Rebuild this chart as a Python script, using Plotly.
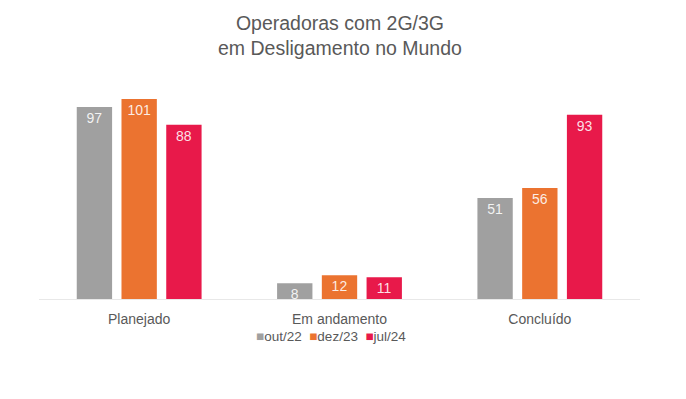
import plotly.graph_objects as go

categories = ["Planejado", "Em andamento", "Concluído"]
series_names = ["out/22", "dez/23", "jul/24"]
out22 = [97, 8, 51]
dez23 = [101, 12, 56]
jul24 = [88, 11, 93]
colors = ["#A0A0A0", "#EB7330", "#E8194A"]

FONT = "Liberation Sans, Arial"

fig = go.Figure()
for name, vals, col in zip(series_names, [out22, dez23, jul24], colors):
    fig.add_trace(go.Bar(
        x=categories, y=vals, name=name,
        marker=dict(color=col, line=dict(width=0)),
        text=[str(v) for v in vals], textposition="inside",
        insidetextanchor="end", textangle=0,
        textfont=dict(color="rgba(255,255,255,0.88)", size=14, family=FONT),
        cliponaxis=False, showlegend=False,
    ))

legend_text = "&nbsp;&nbsp;".join(
    f"<span style='color:{c}'>■</span>{n}" for n, c in zip(series_names, colors)
)

plot_top, plot_bottom = 72, 399 - 108


def fig_y_to_paper(py):
    return (plot_bottom - py) / (plot_bottom - plot_top)


fig.update_layout(
    width=686, height=399,
    paper_bgcolor="white", plot_bgcolor="white",
    margin=dict(l=31, r=54, t=72, b=108),
    barmode="group", bargap=0.33, bargroupgap=0.21,
    font=dict(family=FONT, color="#595959"),
    showlegend=False,
    uniformtext=dict(minsize=14, mode="show"),
    annotations=[
        dict(text="Operadoras com 2G/3G<br>em Desligamento no Mundo",
             x=0.5, xref="paper", xanchor="center",
             y=fig_y_to_paper(2), yref="paper", yanchor="top",
             showarrow=False,
             font=dict(size=19.5, color="#595959", family=FONT)),
        dict(text=legend_text, x=0.5, xref="paper", xanchor="center", xshift=-9,
             y=fig_y_to_paper(328), yref="paper", yanchor="middle",
             showarrow=False, font=dict(size=13.5, color="#595959", family=FONT)),
    ],
)
fig.update_xaxes(showline=True, linecolor="#E8E8E8", linewidth=1, ticks="",
                 ticklabelstandoff=7,
                 tickfont=dict(size=14, color="#595959", family=FONT))
fig.update_yaxes(range=[0, 110.6], visible=False, showgrid=False)

fig.write_html("out.html")
